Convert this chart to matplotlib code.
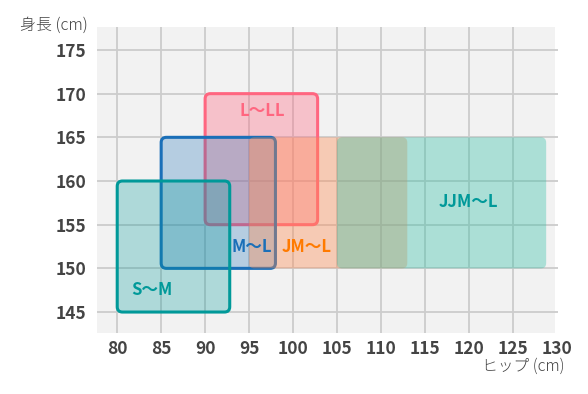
import matplotlib
matplotlib.use("Agg")
import matplotlib.pyplot as plt
from matplotlib.patches import FancyBboxPatch, Rectangle

plt.rcParams['font.family'] = ['Noto Sans CJK JP', 'DejaVu Sans']

# data: (label, hip_min, hip_max, height_min, height_max)
sizes = ["L〜LL", "M〜L", "S〜M", "JM〜L", "JJM〜L"]
hip_min = [90, 85, 80, 95, 105]
hip_max = [102.8, 98, 92.8, 113, 128.8]
height_min = [155, 150, 145, 150, 150]
height_max = [170, 165, 160, 165, 165]
colors = ["#ff6680", "#1a6fb8", "#009999", "#ff8a50", "#2ebfa5"]
alphas = [0.35, 0.28, 0.28, 0.38, 0.36]
edge = [True, True, True, False, False]
label_colors = ["#ff6680", "#1a6fb8", "#009999", "#ff7a00", "#009999"]
label_pos = [(96.5, 168.0), (95.3, 152.4), (83.9, 147.5), (101.5, 152.4), (119.9, 157.6)]

xticks = [80, 85, 90, 95, 100, 105, 110, 115, 120, 125, 130]
yticks = [145, 150, 155, 160, 165, 170, 175]

X0, X1 = 77.7, 130.2
pxu = 8.79
fig = plt.figure(figsize=(5.88, 3.94), dpi=100)
ax = fig.add_axes([97/588, 1-333/394, (X1 - X0)*pxu/588, (333-27)/394])
ax.set_facecolor("none")
ax.set_xlim(X0, X1)
ax.set_ylim(142.6, 177.63)
ax.add_patch(Rectangle((X0, 142.6), 129.8 - X0, 177.63 - 142.6,
                       facecolor="#f2f2f2", lw=0, zorder=0))
ax.set_xticks(xticks)
ax.set_yticks(yticks)
ax.grid(True, color="#cccccc", lw=1.3)
ax.set_axisbelow(True)
for s in ax.spines.values():
    s.set_visible(False)
ax.tick_params(length=0, labelsize=12.5, colors="#444444")
ax.tick_params(axis='y', pad=8)
ax.tick_params(axis='x', pad=5)
for lab in ax.get_xticklabels() + ax.get_yticklabels():
    lab.set_fontweight("bold")
ax.get_xgridlines()[-1].set_visible(False)

for i in range(len(sizes)):
    w = hip_max[i] - hip_min[i]
    h = height_max[i] - height_min[i]
    p = FancyBboxPatch((hip_min[i], height_min[i]), w, h,
                       boxstyle="round,pad=0,rounding_size=0.6",
                       facecolor=colors[i], alpha=alphas[i], lw=0, zorder=2 + i)
    ax.add_patch(p)
    if edge[i]:
        e = FancyBboxPatch((hip_min[i], height_min[i]), w, h,
                           boxstyle="round,pad=0,rounding_size=0.6",
                           facecolor="none", edgecolor=colors[i], lw=2.2, zorder=2 + i)
        ax.add_patch(e)
    ax.text(label_pos[i][0], label_pos[i][1], sizes[i], color=label_colors[i],
            fontsize=12, fontweight="bold", ha="center", va="center", zorder=20)

fig.text(88/588, 1-25/394, "身長 (cm)", ha="right", va="center", fontsize=11.5,
         color="#444444", fontweight=300)
fig.text(564/588, 1-366/394, "ヒップ (cm)", ha="right", va="center", fontsize=11.3,
         color="#444444", fontweight=300)

fig.savefig("out.png", dpi=100, facecolor="white")
